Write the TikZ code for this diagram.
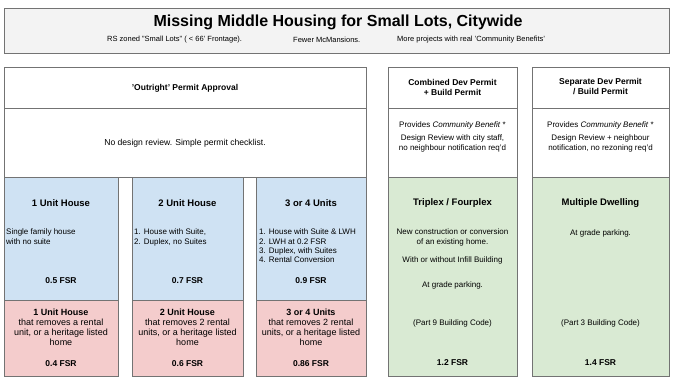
\documentclass[tikz,border=0pt]{standalone}
\usepackage{fontspec}
\setmainfont{Liberation Sans}
\definecolor{framegray}{RGB}{115,115,115}
\definecolor{titlegray}{RGB}{243,243,243}
\definecolor{unitblue}{RGB}{207,226,243}
\definecolor{lossred}{RGB}{244,204,204}
\definecolor{devgreen}{RGB}{217,234,211}
\usepackage{tikz}
\usetikzlibrary{positioning}

\begin{document}
\begin{tikzpicture}[x=1pt, y=-1pt,
  box/.style={draw=framegray, line width=0.8pt, anchor=north west, inner sep=0pt},
  rule/.style={draw=framegray, line width=0.8pt},
  sub/.style={font=\fontsize{7.5}{9}\selectfont, anchor=west, inner sep=0pt},
  head/.style={font=\bfseries\fontsize{8.5}{10}\selectfont, align=center, inner sep=0pt},
  ttl/.style={font=\bfseries\fontsize{9.5}{11}\selectfont, inner sep=0pt},
  fsr/.style={font=\bfseries\fontsize{8.5}{10}\selectfont, inner sep=0pt},
  body/.style={font=\fontsize{8}{9.2}\selectfont, align=center, inner sep=0pt},
  list/.style={font=\fontsize{8}{9.2}\selectfont, align=left, anchor=north west, inner sep=0pt},
  loss/.style={font=\fontsize{9}{10}\selectfont, align=center, inner sep=0pt}]
\useasboundingbox (0,0) rectangle (680,382);

\node[box, fill=titlegray, minimum width=665pt, minimum height=45pt] (titlebox) at (4,8) {};
\node[font=\bfseries\fontsize{16}{19}\selectfont, inner sep=0pt] (maintitle) at (338,22) {Missing Middle Housing for Small Lots, Citywide};
\node[sub] (subLots) at (107,40) {RS zoned "Small Lots" ( < 66' Frontage).};
\node[sub] (subFewer) at (293,40) {Fewer McMansions.};
\node[sub] (subMore) at (397,40) {More projects with real 'Community Benefits'};

\node[box, minimum width=362pt, minimum height=110pt] (outright) at (4,67) {};
\draw[rule] ([yshift=-41pt]outright.north west) -- ([yshift=-41pt]outright.north east);
\node[head] (outrightHead) at (185,88) {'Outright' Permit Approval};
\node[body, font=\fontsize{8.6}{10}\selectfont] (outrightNote) at (185,143) {No design review. Simple permit checklist.};

\node[box, minimum width=129pt, minimum height=309pt] (devA) at (388,67) {};
\node[box, fill=devgreen, minimum width=129pt, minimum height=199pt] (devAfill) at (388,177) {};
\draw[rule] ([yshift=-41pt]devA.north west) -- ([yshift=-41pt]devA.north east);
\node[box, minimum width=137pt, minimum height=309pt] (devB) at (532,67) {};
\node[box, fill=devgreen, minimum width=137pt, minimum height=199pt] (devBfill) at (532,177) {};
\draw[rule] ([yshift=-41pt]devB.north west) -- ([yshift=-41pt]devB.north east);

\node[head] (devAhead) at (452.5,87) {Combined Dev Permit\\+ Build Permit};
\node[body] (devAbenefit) at (452.5,125) {Provides \textit{Community Benefit} *};
\node[body] (devAreview) at (452.5,143.5) {Design Review with city staff,\\no neighbour notification req'd};
\node[head] (devBhead) at (600.5,87) {Separate Dev Permit\\/ Build Permit};
\node[body] (devBbenefit) at (600.5,125) {Provides \textit{Community Benefit} *};
\node[body] (devBreview) at (600.5,143.5) {Design Review + neighbour\\notification, no rezoning req'd};

\node[box, fill=unitblue, minimum width=114pt, minimum height=123pt] (unitA) at (4,177) {};
\node[box, fill=unitblue, minimum width=111pt, minimum height=123pt] (unitB) at (132,177) {};
\node[box, fill=unitblue, minimum width=110pt, minimum height=123pt] (unitC) at (256,177) {};
\node[box, fill=lossred, minimum width=114pt, minimum height=76pt] (lossA) at (4,300) {};
\node[box, fill=lossred, minimum width=111pt, minimum height=76pt] (lossB) at (132,300) {};
\node[box, fill=lossred, minimum width=110pt, minimum height=76pt] (lossC) at (256,300) {};

\node[ttl] (unitAtitle) at (61,203) {1 Unit House};
\node[list] (unitAlist) at (6,229) {Single family house\\with no suite};
\node[fsr] (unitAfsr) at (61,281) {0.5 FSR};
\node[ttl] (unitBtitle) at (187.5,203) {2 Unit House};
\node[list] (unitBlist) at (134,229) {1. House with Suite,\\2. Duplex, no Suites};
\node[fsr] (unitBfsr) at (187.5,281) {0.7 FSR};
\node[ttl] (unitCtitle) at (311,203) {3 or 4 Units};
\node[list] (unitClist) at (259,229) {1. House with Suite \& LWH\\2. LWH at 0.2 FSR\\3. Duplex, with Suites\\4. Rental Conversion};
\node[fsr] (unitCfsr) at (311,281) {0.9 FSR};

\node[loss] (lossAtext) at (61,327) {\textbf{1 Unit House}\\that removes a rental\\unit, or a heritage listed\\home};
\node[fsr] (lossAfsr) at (61,364) {0.4 FSR};
\node[loss] (lossBtext) at (187.5,327) {\textbf{2 Unit House}\\that removes 2 rental\\units, or a heritage listed\\home};
\node[fsr] (lossBfsr) at (187.5,364) {0.6 FSR};
\node[loss] (lossCtext) at (311,327) {\textbf{3 or 4 Units}\\that removes 2 rental\\units, or a heritage listed\\home};
\node[fsr] (lossCfsr) at (311,364) {0.86 FSR};

\node[ttl] (devAtitle) at (452.5,203) {Triplex / Fourplex};
\node[body] (devAbuild) at (452.5,237.5) {New construction or conversion\\of an existing home.};
\node[body] (devAinfill) at (452.5,260) {With or without Infill Building};
\node[body] (devAparking) at (452.5,285) {At grade parking.};
\node[body] (devAcode) at (452.5,323) {(Part 9 Building Code)};
\node[fsr] (devAfsr) at (452.5,363) {1.2 FSR};
\node[ttl] (devBtitle) at (600.5,203) {Multiple Dwelling};
\node[body] (devBparking) at (600.5,233) {At grade parking.};
\node[body] (devBcode) at (600.5,323) {(Part 3 Building Code)};
\node[fsr] (devBfsr) at (600.5,363) {1.4 FSR};
\end{tikzpicture}
\end{document}
